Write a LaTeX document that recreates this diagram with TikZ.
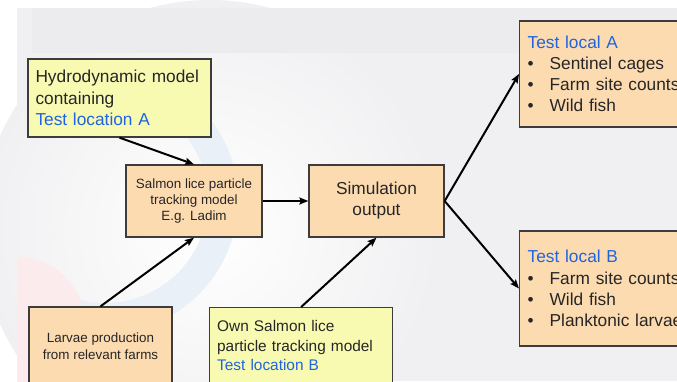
\documentclass[tikz,border=0pt]{standalone}
\usepackage{fontspec}
\setmainfont{Liberation Sans}
\usetikzlibrary{arrows.meta}

\definecolor{panelgray}{HTML}{F0F0F2}
\definecolor{bandgray}{HTML}{ECECEF}
\definecolor{ringblue}{HTML}{EAF0F8}
\definecolor{ringpink}{HTML}{FBEBEC}
\definecolor{boxline}{HTML}{3C3C3C}
\definecolor{hydroyellow}{HTML}{F8FAB2}
\definecolor{peach}{HTML}{FDDBB0}
\definecolor{loctext}{HTML}{1F64E0}

\tikzset{
  box/.style={draw=boxline, line width=1.3pt, inner sep=0pt, text=black!85},
  yelbox/.style={box, fill=hydroyellow},
  peachbox/.style={box, fill=peach},
  flow/.style={line width=2pt, -{Stealth[length=9pt,width=7pt,inset=1.5pt]}}
}
\newcommand{\bul}[1]{\makebox[22pt][l]{\textbullet}#1}

\begin{document}
\begin{tikzpicture}[x=1pt, y=-1pt]
  \useasboundingbox (0,0) rectangle (677,381);
  \clip (0,0) rectangle (677,381);

  % slide background
  \fill[white] (0,0) rectangle (677,381);
  \fill[panelgray] (17,8) rectangle (677,381);
  \shade[inner color=white, outer color=panelgray] (210,230) circle (230);
  \fill[bandgray] (32,8) rectangle (677,53);
  \begin{scope}
    \clip (17,53) rectangle (677,381);
    \draw[ringblue, line width=30pt] (105,200) ++(125:118) arc (125:-65:118);
    \fill[ringpink] (17,325) circle (68);
  \end{scope}

  % inputs
  \node[yelbox, minimum width=183, minimum height=78, text width=168,
        inner xsep=7.5pt, align=left, font=\fontsize{17.3}{21.5}\selectfont]
    (hydro) at (119.5,98)
    {Hydrodynamic model\\containing\\\textcolor{loctext}{Test location A}};
  \node[peachbox, minimum width=136, minimum height=72, align=center,
        font=\fontsize{13.4}{16.3}\selectfont]
    (ladim) at (194,201) {Salmon lice particle\\tracking model\\E.g. Ladim};
  \node[peachbox, minimum width=143, minimum height=78, align=center,
        font=\fontsize{13.4}{17}\selectfont]
    (larvae) at (100.5,346) {Larvae production\\from relevant farms};
  \node[yelbox, anchor=north west, minimum width=183, minimum height=76,
        text width=168, inner xsep=7.5pt, align=left,
        font=\fontsize{15.4}{19.5}\selectfont]
    (own) at (209,307)
    {Own Salmon lice\\particle tracking model\\\textcolor{loctext}{Test location B}};

  % output
  \node[peachbox, minimum width=135, minimum height=72, align=center,
        font=\fontsize{17.3}{21}\selectfont]
    (sim) at (376.5,201) {Simulation\\output};

  % test locations
  \node[peachbox, anchor=west, minimum height=106, text width=200,
        inner xsep=8pt, align=left, font=\fontsize{17.3}{21.2}\selectfont]
    (locA) at (519,74)
    {\textcolor{loctext}{Test local A}\\\bul{Sentinel cages}\\\bul{Farm site counts}\\\bul{Wild fish}};
  \node[peachbox, anchor=west, minimum height=115, text width=200,
        inner xsep=8pt, align=left, font=\fontsize{17.3}{21.2}\selectfont]
    (locB) at (519,288.5)
    {\textcolor{loctext}{Test local B}\\\bul{Farm site counts}\\\bul{Wild fish}\\\bul{Planktonic larvae}};

  % connectors
  \draw[flow] (hydro.south) -- (ladim.north);
  \draw[flow] (larvae.north) -- (ladim.south);
  \draw[flow] (ladim.east) -- (sim.west);
  \draw[flow] (own.north) -- (sim.south);
  \draw[flow] (sim.east) -- (locA.west);
  \draw[flow] (sim.east) -- (locB.west);
\end{tikzpicture}
\end{document}
